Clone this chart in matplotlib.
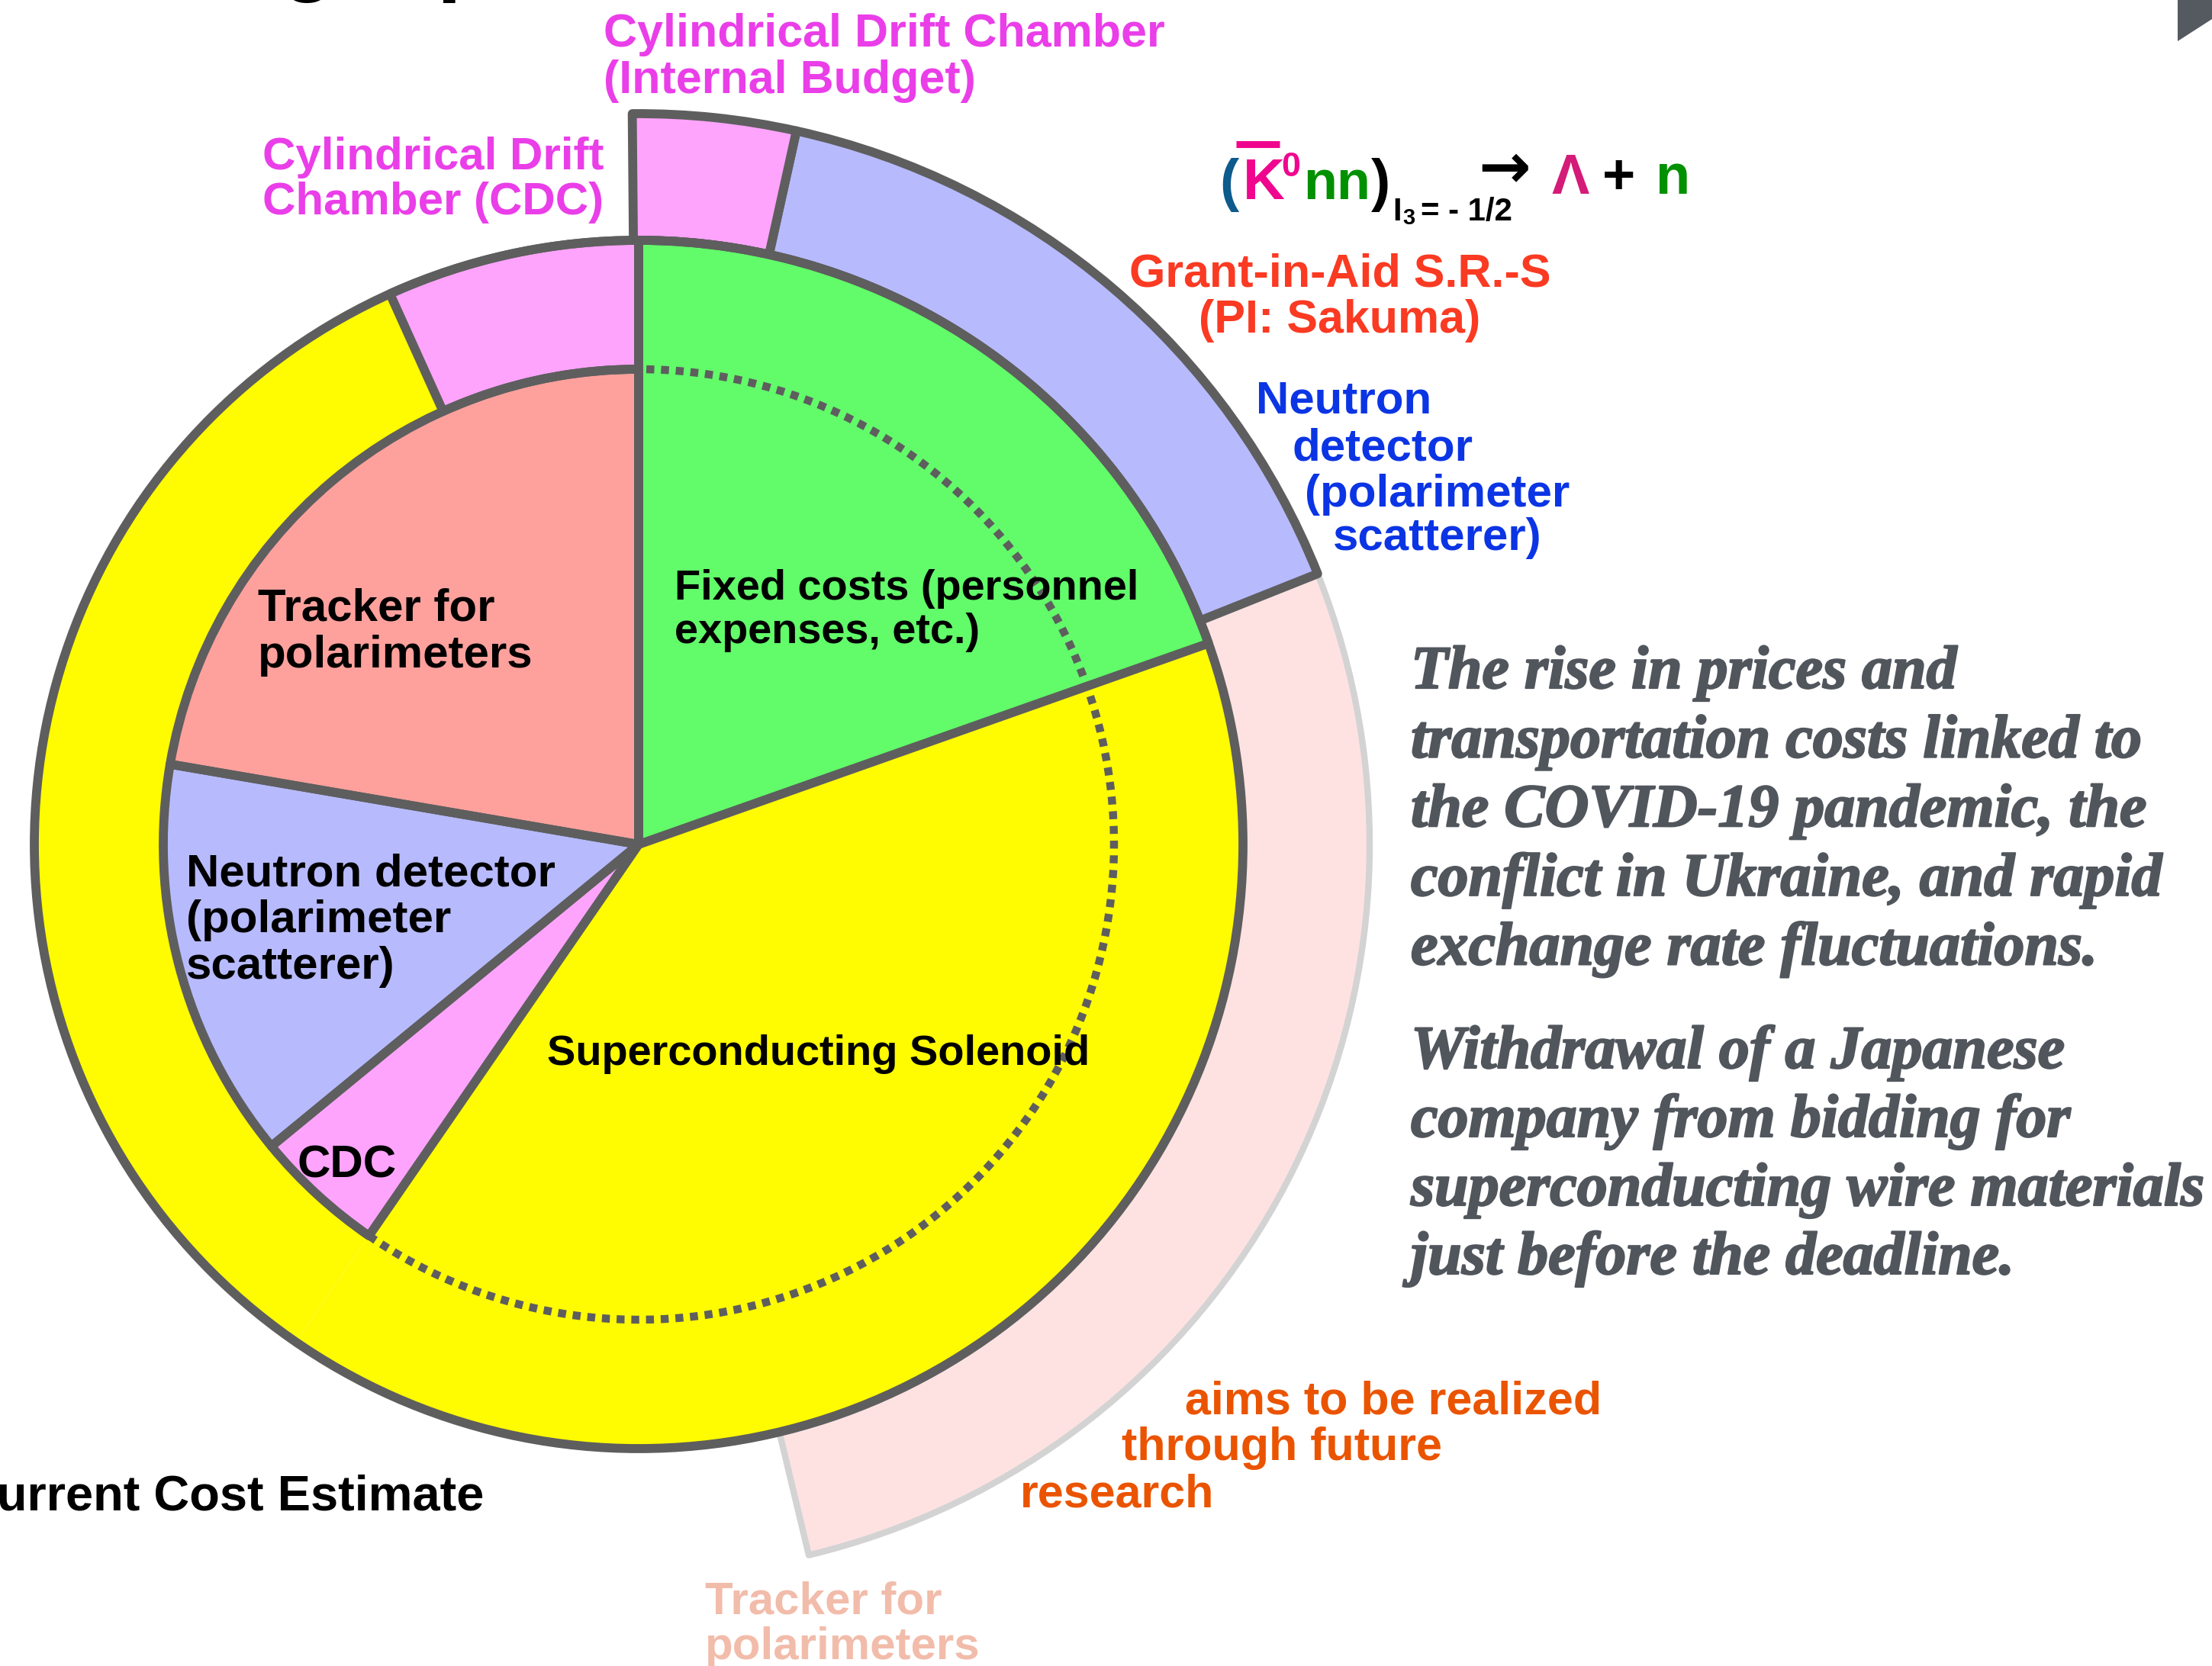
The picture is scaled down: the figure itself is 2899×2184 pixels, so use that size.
import matplotlib
matplotlib.use("Agg")
import matplotlib.pyplot as plt
import matplotlib.patheffects as pe
from matplotlib.patches import Wedge, Arc, Circle, Polygon

W, H = 2899, 2184

# shares in % of the whole circle, clockwise from 12 o'clock
inner_names = ["Fixed costs", "Superconducting Solenoid", "CDC",
               "Neutron detector", "Tracker for polarimeters"]
inner_share = [19.6, 40.0, 4.45, 13.65, 22.3]
inner_colors = ["#62fb6a", "#fffb00", "#ffa4fd", "#b7bbfe", "#fea19d"]
inner_full = [True, True, False, False, False]   # already reach the outer circle

# cost rise ring, starts where the solenoid slice ends
rise_names = ["Superconducting Solenoid", "Cylindrical Drift Chamber (CDC)"]
rise_share = [33.65, 6.75]
rise_colors = ["#fffb00", "#ffa4fd"]
rise_outlined = [False, True]   # solenoid rise merges with the solenoid slice

# funding ring outside the circle
fund_names = ["CDC (Internal Budget)", "Grant-in-Aid S.R.-S", "future research"]
fund_share = [3.6, 15.5, 27.3]
fund_colors = ["#ffa4fd", "#b7bbfe", "#fee2e2"]


def spans(shares, start):
    out = []
    for s in shares:
        end = start - s * 3.6
        out.append((end, start))
        start = end
    return out


def px(p):
    return p * 0.72


fig = plt.figure(figsize=(W / 100, H / 100), dpi=100)
ax = fig.add_axes([0, 0, 1, 1])
ax.set_xlim(0, W)
ax.set_ylim(0, H)
ax.axis("off")

cx, cy = 837, H - 1107
r_in, r_mid, r_out = 623, 792, 958
edge = "#5e5e5e"
lw = 8.5

inner_ang = spans(inner_share, 90)
rise_ang = spans(rise_share, inner_ang[1][0])
fund_ang = spans(fund_share, 90.5)

# outer funding ring (last one is only planned -> light outline)
for i in reversed(range(len(fund_share))):
    t1, t2 = fund_ang[i]
    last = i == len(fund_share) - 1
    ax.add_patch(Wedge((cx, cy), r_out, t1, t2, width=r_out - r_mid,
                       fc=fund_colors[i], ec="#d3d3d3" if last else edge,
                       lw=6 if last else lw, joinstyle="round"))

# fills first
for (t1, t2), c in zip(rise_ang, rise_colors):
    ax.add_patch(Wedge((cx, cy), r_mid, t1, t2, width=r_mid - r_in, fc=c, ec="none"))
for (t1, t2), c, full in zip(inner_ang, inner_colors, inner_full):
    ax.add_patch(Wedge((cx, cy), r_mid if full else r_in, t1, t2, fc=c, ec="none"))

# then outlines
for (t1, t2), out in zip(rise_ang, rise_outlined):
    if out:
        ax.add_patch(Wedge((cx, cy), r_mid, t1, t2, width=r_mid - r_in, fill=False,
                           ec=edge, lw=lw, joinstyle="round"))
for i, ((t1, t2), full) in enumerate(zip(inner_ang, inner_full)):
    if i == 1:
        continue   # solenoid: edges come from neighbours and the outer circle
    ax.add_patch(Wedge((cx, cy), r_mid if full else r_in, t1, t2, fill=False,
                       ec=edge, lw=lw, joinstyle="round"))
ax.add_patch(Circle((cx, cy), r_mid, fill=False, ec=edge, lw=lw))

# original plan boundary
ax.add_patch(Arc((cx, cy), 2 * r_in, 2 * r_in, theta1=inner_ang[1][0], theta2=90,
                 color=edge, lw=7.5, ls=(0, (1.0, 0.85))))

sans = "Liberation Sans"


def lines(xs, ys, texts, color, size, **kw):
    for x, y, t in zip(xs, ys, texts):
        ax.text(x, H - y, t, color=color, fontsize=px(size), family=sans,
                weight="bold", va="baseline", **kw)


mag = "#ea3ee9"
lines([791, 791], [61, 122], ["Cylindrical Drift Chamber", "(Internal Budget)"], mag, 61)
lines([344, 344], [222, 281], ["Cylindrical Drift", "Chamber (CDC)"], mag, 60)
lines([1756, 1756], [375, 436], ["Grant-in-Aid S.R.-S", "(PI: Sakuma)"], "#fa3a22", 61,
      ha="center")
lines([1646, 1694, 1710, 1747], [542, 603, 664, 721],
      ["Neutron", "detector", "(polarimeter", "scatterer)"], "#0b35e4", 60)

lines([338, 338], [814, 875], ["Tracker for", "polarimeters"], "black", 60)
lines([884, 884], [786, 843], ["Fixed costs (personnel", "expenses, etc.)"], "black", 56)
lines([244, 244, 244], [1161, 1222, 1283],
      ["Neutron detector", "(polarimeter", "scatterer)"], "black", 60)
lines([717], [1396], ["Superconducting Solenoid"], "black", 56)
lines([390], [1543], ["CDC"], "black", 60)

lines([1553, 1470, 1337], [1853, 1914, 1975],
      ["aims to be realized", "through future", "research"], "#ea5400", 61)
lines([924, 924], [2115, 2175], ["Tracker for", "polarimeters"], "#f2bcaa", 60)
lines([634], [1980], ["Current Cost Estimate"], "black", 65, ha="right")
lines([145], [-20], ["Budget plan"], "black", 115)

# notes on the right
notes1 = ["The rise in prices and", "transportation costs linked to",
          "the COVID-19 pandemic, the", "conflict in Ukraine, and rapid",
          "exchange rate fluctuations."]
notes2 = ["Withdrawal of a Japanese", "company from bidding for",
          "superconducting wire materials", "just before the deadline."]
note_col = "#51565d"
heavy = [pe.withStroke(linewidth=1.6, foreground=note_col)]
for i, t in enumerate(notes1):
    ax.text(1849, H - (902 + i * 90.6), t, color=note_col, fontsize=px(80),
            family="Liberation Serif", weight="bold", style="italic", va="baseline",
            path_effects=heavy)
for i, t in enumerate(notes2):
    ax.text(1849, H - (1400 + i * 90), t, color=note_col, fontsize=px(80),
            family="Liberation Serif", weight="bold", style="italic", va="baseline",
            path_effects=heavy)

# reaction formula
green = "#009000"
pink = "#f0068e"
lines([1598], [262], ["("], "#0d5a8c", 76)
lines([1629], [261], ["K"], pink, 76)
ax.plot([1620, 1677], [H - 189, H - 189], color=pink, lw=6.5, solid_capstyle="butt")
lines([1679], [231], ["0"], pink, 45)
lines([1708], [261], ["nn"], green, 72)
lines([1797], [262], [")"], "black", 76)
lines([1825], [289], ["I"], "black", 42)
lines([1838], [294], ["3"], "black", 29)
lines([1862], [289], ["= - 1/2"], "black", 42)
ax.text(1972, H - 224, "\u2192", color="black", fontsize=px(82), family="DejaVu Sans",
        weight="bold", ha="center", va="center")
lines([2033], [254], ["\u039b"], "#d41b78", 74)
lines([2100], [254], ["+"], "black", 74)
lines([2170], [254], ["n"], green, 74)

# slide corner mark
ax.add_patch(Polygon([(2854, H), (W, H), (W, H - 25), (2854, H - 54)],
                     closed=True, fc="#555a61", ec="none"))

fig.savefig("out.png", dpi=100)
